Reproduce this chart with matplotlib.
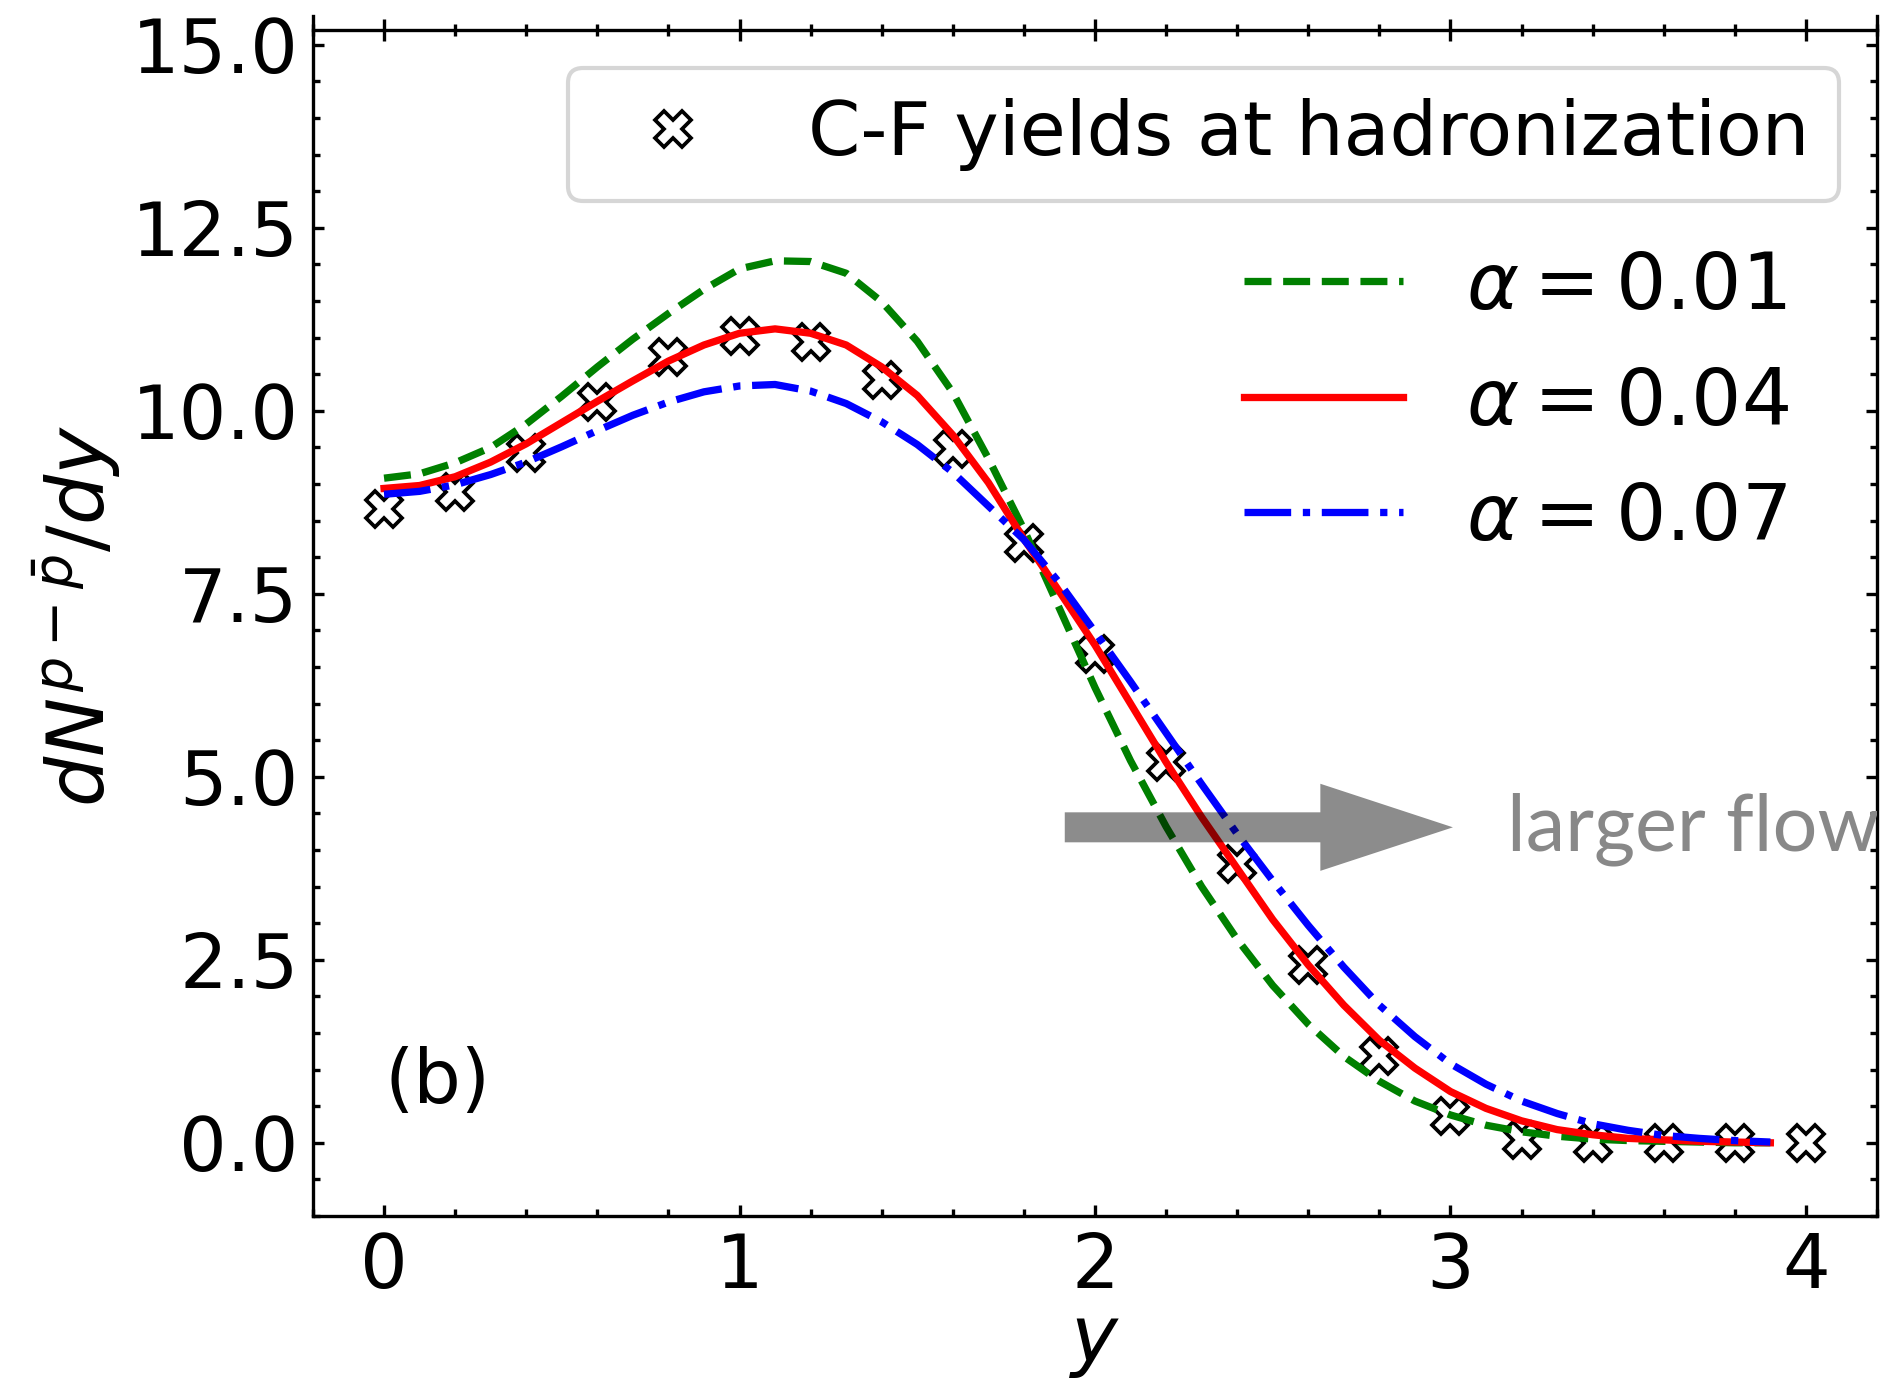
import matplotlib
matplotlib.use('Agg')
import matplotlib.pyplot as plt
from matplotlib.ticker import MultipleLocator

# ---------------- data ----------------
y_points = [0.0, 0.2, 0.4, 0.6, 0.8, 1.0, 1.2, 1.4, 1.6, 1.8, 2.0,
            2.2, 2.4, 2.6, 2.8, 3.0, 3.2, 3.4, 3.6, 3.8, 4.0]
cf_yields = [8.66, 8.89, 9.43, 10.12, 10.73, 11.02, 10.94, 10.42, 9.48, 8.19, 6.68,
             5.20, 3.81, 2.43, 1.19, 0.37, 0.04, 0.0, 0.0, 0.0, 0.0]

y_curve = [0.0, 0.1, 0.2, 0.3, 0.4, 0.5, 0.6, 0.7, 0.8, 0.9,
           1.0, 1.1, 1.2, 1.3, 1.4, 1.5, 1.6, 1.7, 1.8, 1.9,
           2.0, 2.1, 2.2, 2.3, 2.4, 2.5, 2.6, 2.7, 2.8, 2.9,
           3.0, 3.1, 3.2, 3.3, 3.4, 3.5, 3.6, 3.7, 3.8, 3.9]
dn_alpha001 = [9.08, 9.14, 9.29, 9.50, 9.82, 10.20, 10.60, 10.98, 11.33, 11.66,
               11.94, 12.05, 12.04, 11.88, 11.49, 10.95, 10.25, 9.35, 8.38, 7.30,
               6.22, 5.22, 4.32, 3.50, 2.78, 2.15, 1.62, 1.18, 0.84, 0.57,
               0.38, 0.24, 0.15, 0.09, 0.05, 0.03, 0.02, 0.01, 0.0, 0.0]
dn_alpha004 = [8.94, 8.98, 9.10, 9.30, 9.55, 9.84, 10.13, 10.41, 10.68, 10.90,
               11.06, 11.12, 11.06, 10.90, 10.60, 10.21, 9.67, 9.02, 8.25, 7.53,
               6.80, 6.00, 5.20, 4.45, 3.75, 3.05, 2.43, 1.88, 1.40, 1.02,
               0.70, 0.47, 0.30, 0.18, 0.11, 0.06, 0.04, 0.02, 0.01, 0.0]
dn_alpha007 = [8.86, 8.90, 8.99, 9.13, 9.30, 9.51, 9.73, 9.94, 10.12, 10.26,
               10.34, 10.36, 10.27, 10.10, 9.85, 9.54, 9.16, 8.70, 8.24, 7.65,
               6.98, 6.30, 5.60, 4.90, 4.22, 3.58, 2.97, 2.40, 1.88, 1.45,
               1.08, 0.80, 0.57, 0.40, 0.26, 0.17, 0.10, 0.06, 0.03, 0.01]

curve_labels = [r'$\alpha = 0.01$', r'$\alpha = 0.04$', r'$\alpha = 0.07$']
x_major = [0, 1, 2, 3, 4]
y_major = [0.0, 2.5, 5.0, 7.5, 10.0, 12.5, 15.0]

# ---------------- figure ----------------
fig = plt.figure(figsize=(1891 / 300, 1381 / 300), dpi=300)
ax = fig.add_axes([0.1655, 0.1195, 0.9926 - 0.1655, 0.9887 - 0.1195])

ylo, yhi = -1.0, 15.4
ax.set_xlim(-0.2, 4.2)
ax.set_ylim(ylo, yhi)

mk, = ax.plot(y_points, cf_yields, ls='none', marker='X', ms=8.5,
              mfc='white', mec='black', mew=0.9, zorder=2,
              label='C-F yields at hadronization')
l1, = ax.plot(y_curve, dn_alpha001, color='green', ls='--', lw=1.75, zorder=3,
              label=curve_labels[0])
l2, = ax.plot(y_curve, dn_alpha004, color='red', ls='-', lw=1.75, zorder=3,
              label=curve_labels[1])
l3, = ax.plot(y_curve, dn_alpha007, color='blue', ls='-.', lw=1.75, zorder=3,
              label=curve_labels[2])

# ticks
ax.set_xticks(x_major)
ax.set_yticks(y_major)
ax.xaxis.set_minor_locator(MultipleLocator(0.2))
ax.yaxis.set_minor_locator(MultipleLocator(0.5))
ax.tick_params(axis='both', which='both', direction='in', right=True, top=False,
               labelsize=18, width=0.8)
ax.tick_params(axis='both', which='major', length=2.6, pad=3.5)
ax.tick_params(axis='both', which='minor', length=1.6)
ax.spines['top'].set_visible(False)
for s in ['left', 'right', 'bottom']:
    ax.spines[s].set_linewidth(0.8)

# top axis line slightly below the frame top, with crossing ticks
sec = ax.secondary_xaxis((15.2 - ylo) / (yhi - ylo))
sec.set_xticks(x_major)
sec.xaxis.set_minor_locator(MultipleLocator(0.2))
sec.tick_params(which='both', direction='inout', labeltop=False, width=0.8)
sec.tick_params(which='major', length=5.3)
sec.tick_params(which='minor', length=2.9)
sec.spines['top'].set_linewidth(0.8)

# labels
ax.set_ylabel(r'$dN^{p-\bar{p}}/dy$', fontsize=19)
ax.yaxis.set_label_coords(-0.1215, 0.5)
ax.set_xlabel(r'$y$', fontsize=19, labelpad=0)

# legends
leg1 = ax.legend(handles=[mk], loc='upper right', bbox_to_anchor=(0.9757, 0.956),
                 borderaxespad=0, fontsize=18)
ax.add_artist(leg1)
ax.legend(handles=[l1, l2, l3], loc='upper right', bbox_to_anchor=(0.964, 0.832),
          borderaxespad=0, frameon=False, fontsize=19)

# arrow & annotations
ax.arrow(1.915, 4.31, 1.092, 0, width=0.41, head_width=1.19, head_length=0.373,
         length_includes_head=True, color='black', alpha=0.45, lw=0, zorder=5)
ax.text(3.16, 4.29, 'larger flow', fontsize=19, family='Lato', color='#888888',
        va='center', ha='left', clip_on=True, zorder=5)
ax.text(0.0, 0.83, '(b)', fontsize=18, va='center', ha='left')

fig.savefig('out.png', dpi=300)
